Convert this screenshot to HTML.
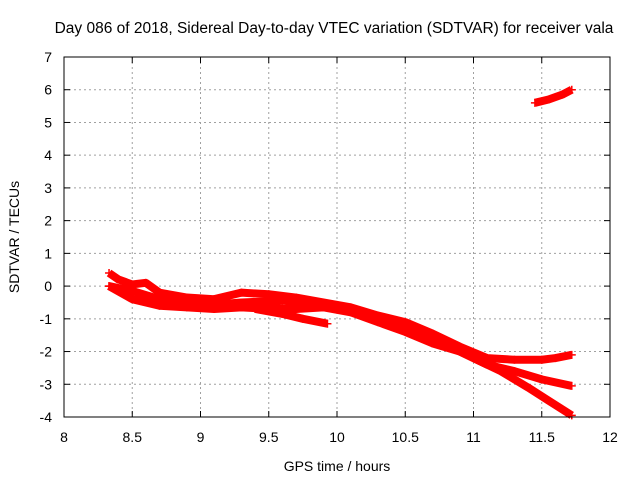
<!DOCTYPE html>
<html><head><meta charset="utf-8"><style>
body{margin:0;background:#fff}
svg{display:block;font-family:"Liberation Sans",sans-serif}
</style></head><body>
<svg id="chart" width="640" height="480">
<text x="334" y="33" text-anchor="middle" font-size="15.5">Day 086 of 2018, Sidereal Day-to-day VTEC variation (SDTVAR) for receiver vala</text>
<text x="337" y="471" text-anchor="middle" font-size="14">GPS time / hours</text>
<text transform="translate(19,237) rotate(-90)" text-anchor="middle" font-size="14">SDTVAR / TECUs</text>
<g id="grid"></g><g id="series"></g>
<rect x="64" y="57" width="546" height="360" fill="none" stroke="#000"/>
</svg>
<script>
const xTicks=[8,8.5,9,9.5,10,10.5,11,11.5,12];
const xTickLabels=["8","8.5","9","9.5","10","10.5","11","11.5","12"];
const yTicks=[-4,-3,-2,-1,0,1,2,3,4,5,6,7];
const yTickLabels=["-4","-3","-2","-1","0","1","2","3","4","5","6","7"];
const s1=[[8.33,0.4],[8.4,0.2],[8.5,0.05],[8.6,0.1],[8.7,-0.2],[8.9,-0.35],[9.1,-0.4],[9.3,-0.2],[9.5,-0.25],[9.7,-0.35],[9.9,-0.5],[10.1,-0.65],[10.3,-0.9],[10.5,-1.1],[10.7,-1.45],[10.9,-1.85],[11.1,-2.2],[11.3,-2.25],[11.5,-2.25],[11.6,-2.2],[11.72,-2.1]];
const s2=[[8.33,0.0],[8.5,-0.4],[8.7,-0.6],[8.9,-0.65],[9.1,-0.7],[9.3,-0.65],[9.5,-0.7],[9.7,-0.7],[9.9,-0.65],[10.1,-0.8],[10.3,-1.1],[10.5,-1.4],[10.7,-1.75],[10.9,-2.0],[11.1,-2.4],[11.3,-2.6],[11.5,-2.85],[11.72,-3.05]];
const s3=[[8.33,0.0],[8.5,-0.15],[8.7,-0.4],[9.0,-0.6],[9.3,-0.5],[9.6,-0.45],[9.8,-0.5],[10.0,-0.6],[10.2,-0.8],[10.4,-1.05],[10.6,-1.4],[10.8,-1.8],[11.0,-2.2],[11.2,-2.6],[11.4,-3.1],[11.55,-3.5],[11.72,-3.95]];
const s4=[[9.4,-0.7],[9.6,-0.85],[9.75,-1.0],[9.93,-1.15]];
const s5=[[11.45,5.6],[11.55,5.7],[11.65,5.85],[11.72,6.0]];
const seriesList=[s1,s2,s3,s4,s5];
const X=h=>64+(h-8)*546/4, Y=v=>57+(7-v)*360/11;
const NS="http://www.w3.org/2000/svg";
const grid=document.getElementById('grid'), ser=document.getElementById('series');
function mk(tag,attrs,parent){const e=document.createElementNS(NS,tag);for(const k in attrs)e.setAttribute(k,attrs[k]);parent.appendChild(e);return e;}
xTicks.forEach((t,i)=>{const x=X(t);
 if(i>0&&i<xTicks.length-1){const l=mk('line',{x1:x,x2:x,y1:57,y2:417,stroke:'#a0a0a0','stroke-dasharray':'2,3'},grid);
 }
 mk('line',{x1:x,x2:x,y1:417,y2:411,stroke:'#000'},grid);mk('line',{x1:x,x2:x,y1:57,y2:63,stroke:'#000'},grid);
 const tx=mk('text',{x:x,y:442,'text-anchor':'middle','font-size':'14'},grid);tx.textContent=xTickLabels[i];
 });
yTicks.forEach((t,i)=>{const y=Y(t);
 if(i>0&&i<yTicks.length-1){const l=mk('line',{x1:64,x2:610,y1:y,y2:y,stroke:'#a0a0a0','stroke-dasharray':'2,3'},grid);
 }
 mk('line',{x1:64,x2:70,y1:y,y2:y,stroke:'#000'},grid);mk('line',{x1:610,x2:604,y1:y,y2:y,stroke:'#000'},grid);
 const tx=mk('text',{x:52,y:y+5,'text-anchor':'end','font-size':'14'},grid);tx.textContent=yTickLabels[i];
 });
seriesList.forEach((s,i)=>{
 const p=mk('polyline',{points:s.map(d=>X(d[0])+','+Y(d[1])).join(' '),fill:'none',stroke:'#ff0000','stroke-width':'8','stroke-linejoin':'round'},ser);
 
 
 s.forEach(d=>{const x=X(d[0]),y=Y(d[1]);
  const m=mk('path',{d:`M${x-4},${y}h8M${x},${y-4}v8`,stroke:'#ff0000','stroke-width':'1.5'},ser);
  
  });
});
</script>
</body></html>
